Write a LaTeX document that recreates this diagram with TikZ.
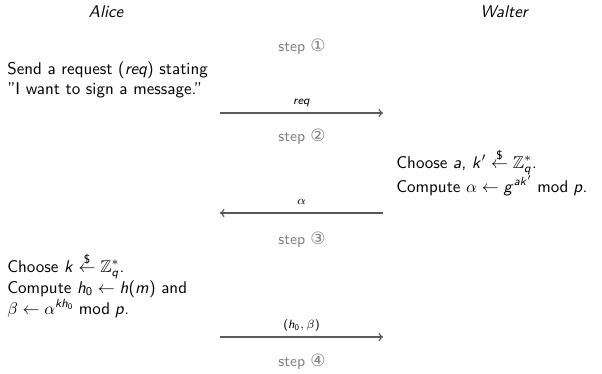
\documentclass[tikz,border=0pt]{standalone}
\usepackage{amsmath,amssymb}
\usepackage[no-math]{fontspec}
\newfontfamily\circfont{DejaVu Sans}
\renewcommand\familydefault{\sfdefault}
% sans serif digits, operators and latin letters in formulas
\DeclareSymbolFont{operators}{OT1}{cmss}{m}{n}
\DeclareSymbolFont{sfletters}{OT1}{cmss}{m}{sl}
\DeclareMathSymbol{a}{\mathalpha}{sfletters}{`a}
\DeclareMathSymbol{g}{\mathalpha}{sfletters}{`g}
\DeclareMathSymbol{h}{\mathalpha}{sfletters}{`h}
\DeclareMathSymbol{k}{\mathalpha}{sfletters}{`k}
\DeclareMathSymbol{m}{\mathalpha}{sfletters}{`m}
\DeclareMathSymbol{p}{\mathalpha}{sfletters}{`p}
\DeclareMathSymbol{q}{\mathalpha}{sfletters}{`q}
\newcommand\rnd{\mathrel{\overset{\raisebox{-0.35ex}{$\scriptstyle\$$}}{\leftarrow}}}
\newcommand\stepno[1]{{\circfont\normalsize #1}}
\begin{document}
\begin{tikzpicture}[x=0.5882pt,y=-0.5882pt,
  party/.style={font=\itshape, anchor=base},
  steplabel/.style={font=\small, text=black!50, anchor=base},
  say/.style={anchor=base west, inner sep=0pt},
  msg/.style={draw=black!65, line width=0.85pt, -to},
  msglabel/.style={font=\scriptsize, anchor=base, inner sep=0pt}]
\useasboundingbox (0,0) rectangle (602,373);

% participants
\node[party] (alice) at (106,17) {Alice};
\node[party] (walter) at (504,17) {Walter};

% step 1
\node[steplabel] (s1) at (302,51) {step \stepno{①}};
\node[say] (a1) at (7,74) {Send a request (\textit{req}) stating};
\node[say] (a2) at (7,94.5) {"I want to sign a message."};
\coordinate (reqL) at (220,113);
\coordinate (reqR) at (383,113);
\draw[msg] (reqL) -- (reqR);
\node[msglabel] (reqlab) at (301.5,104.5) {\textit{req}};

% step 2
\node[steplabel] (s2) at (302,141) {step \stepno{②}};
\node[say] (w1) at (396,168) {Choose $a$, $k' \rnd \mathbb{Z}_q^*$.};
\node[say] (w2) at (396,192) {Compute $\alpha \leftarrow g^{ak'} \bmod p$.};
\coordinate (alphaR) at (383,213);
\coordinate (alphaL) at (220,213);
\draw[msg] (alphaR) -- (alphaL);
\node[msglabel] (alphalab) at (301.5,204.5) {$\alpha$};

% step 3
\node[steplabel] (s3) at (302,244) {step \stepno{③}};
\node[say] (a3) at (7,272) {Choose $k \rnd \mathbb{Z}_q^*$.};
\node[say] (a4) at (7,293) {Compute $h_0 \leftarrow h(m)$ and};
\node[say] (a5) at (7,314) {$\beta \leftarrow \alpha^{kh_0} \bmod p$.};
\coordinate (sigL) at (220,337);
\coordinate (sigR) at (383,337);
\draw[msg] (sigL) -- (sigR);
\node[msglabel] (siglab) at (301.5,328.5) {$(h_0,\beta)$};

% step 4
\node[steplabel] (s4) at (302,366) {step \stepno{④}};
\end{tikzpicture}
\end{document}
